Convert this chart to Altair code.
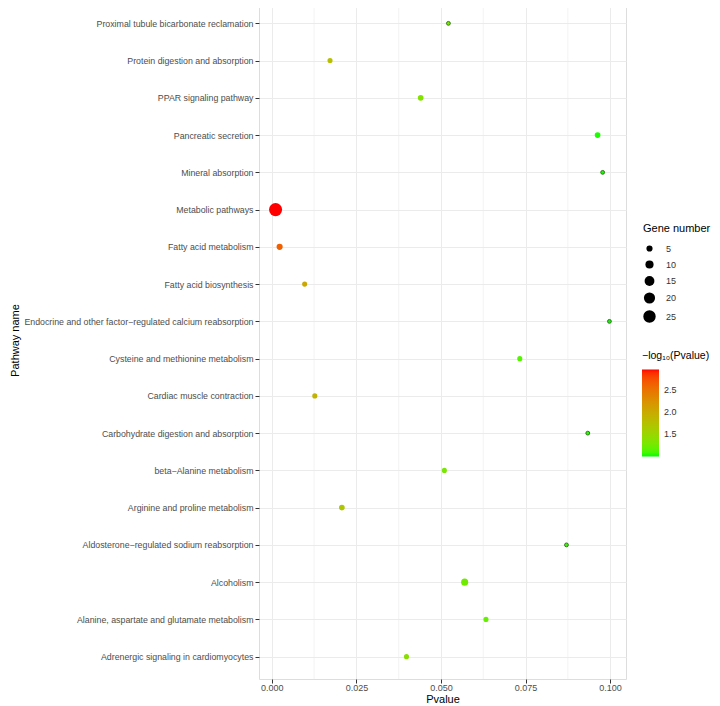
import altair as alt
import pandas as pd
import numpy as np

pathways = [
    "Proximal tubule bicarbonate reclamation",
    "Protein digestion and absorption",
    "PPAR signaling pathway",
    "Pancreatic secretion",
    "Mineral absorption",
    "Metabolic pathways",
    "Fatty acid metabolism",
    "Fatty acid biosynthesis",
    "Endocrine and other factor\u2212regulated calcium reabsorption",
    "Cysteine and methionine metabolism",
    "Cardiac muscle contraction",
    "Carbohydrate digestion and absorption",
    "beta\u2212Alanine metabolism",
    "Arginine and proline metabolism",
    "Aldosterone\u2212regulated sodium reabsorption",
    "Alcoholism",
    "Alanine, aspartate and glutamate metabolism",
    "Adrenergic signaling in cardiomyocytes",
]
pvalues = [0.0522, 0.0172, 0.0440, 0.0963, 0.0978, 0.0011, 0.0023, 0.0097, 0.0998,
           0.0733, 0.0127, 0.0934, 0.0510, 0.0207, 0.0871, 0.0570, 0.0633, 0.0398]
genes = [1, 3, 4, 4, 1, 28, 5, 3, 1, 3, 3, 1, 3, 4, 1, 7, 3, 3]

major_ticks = [0.0, 0.025, 0.05, 0.075, 0.1]
minor_ticks = [0.0125, 0.0375, 0.0625, 0.0875]
size_legend_values = [5, 10, 15, 20, 25]
color_legend_values = [1.5, 2.0, 2.5]

df = pd.DataFrame({"Pathway": pathways, "Pvalue": pvalues, "Gene": genes})
df["logp"] = -np.log10(df["Pvalue"])
minor_df = pd.DataFrame({"Pvalue": minor_ticks})

x_dom = [-0.0038, 0.1047]
xscale = alt.Scale(domain=x_dom, nice=False, zero=False)

FONT = "Liberation Sans"

x_axis = alt.Axis(values=major_ticks, format=".3f", grid=True, gridColor="#EBEBEB",
                  gridWidth=1, tickColor="#333333", tickSize=4, labelFontSize=9,
                  labelColor="#4D4D4D", titleFontSize=11, titleFontWeight="normal",
                  titleColor="black", domain=False, labelPadding=0, titlePadding=1,
                  labelFont=FONT, titleFont=FONT)

minor = alt.Chart(minor_df).mark_rule(color="#EBEBEB", strokeWidth=0.6).encode(
    x=alt.X("Pvalue:Q", scale=xscale, title="Pvalue", axis=x_axis)
)

points = alt.Chart(df).mark_point(filled=True, opacity=1, stroke="#2E6B16").encode(
    x=alt.X("Pvalue:Q", scale=xscale, title="Pvalue", axis=x_axis),
    y=alt.Y("Pathway:N", sort=pathways, title="Pathway name",
            scale=alt.Scale(type="point", padding=0.6),
            axis=alt.Axis(grid=True, gridColor="#EBEBEB", gridWidth=1, tickColor="#333333",
                          tickSize=4, labelFontSize=8.8, labelColor="#4D4D4D", labelPadding=2,
                          titleFontSize=11, titleFontWeight="normal", titleColor="black",
                          domain=False, labelFont=FONT, titleFont=FONT, titleX=-244,
                          titleBaseline="middle", labelLimit=400)),
    size=alt.Size("Gene:Q", title="Gene number",
                  scale=alt.Scale(type="linear", domain=[0, 30], range=[9, 183], zero=False, nice=False),
                  legend=alt.Legend(values=size_legend_values, orient="none", legendX=384, legendY=222,
                                    symbolFillColor="black", symbolStrokeWidth=0, symbolOpacity=1,
                                    titleFontSize=11, titleFontWeight="normal", titleColor="black",
                                    labelFontSize=9, labelColor="#333333", rowPadding=6,
                                    titleFont=FONT, labelFont=FONT, labelOffset=10, titlePadding=10)),
    color=alt.Color("logp:Q", title="\u2212log\u2081\u2080(Pvalue)",
                    scale=alt.Scale(domain=[float(df["logp"].min()), float(df["logp"].max())],
                                    range=["#00FF00", "#FF0000"], interpolate="lab", nice=False, zero=False),
                    legend=alt.Legend(values=color_legend_values, format=".1f", orient="none",
                                      legendX=383, legendY=350, gradientLength=87, gradientThickness=17,
                                      titleFontSize=10.5, titleFontWeight="normal", titleColor="black",
                                      labelFontSize=9, labelColor="#333333", titleFont=FONT,
                                      labelFont=FONT, gradientStrokeWidth=0, titlePadding=8,
                                      labelOffset=5)),
    strokeWidth=alt.condition(alt.datum.Gene < 2, alt.value(0.9), alt.value(0)),
)

chart = alt.layer(minor, points).properties(
    width=367, height=678,
    autosize=alt.AutoSizeParams(type="none"),
    padding={"left": 251, "top": -7, "right": 86, "bottom": 27},
).configure_view(stroke="#333333", strokeWidth=1).configure(font=FONT)

chart.save("out.html", embed_options={"renderer": "svg", "actions": False})
